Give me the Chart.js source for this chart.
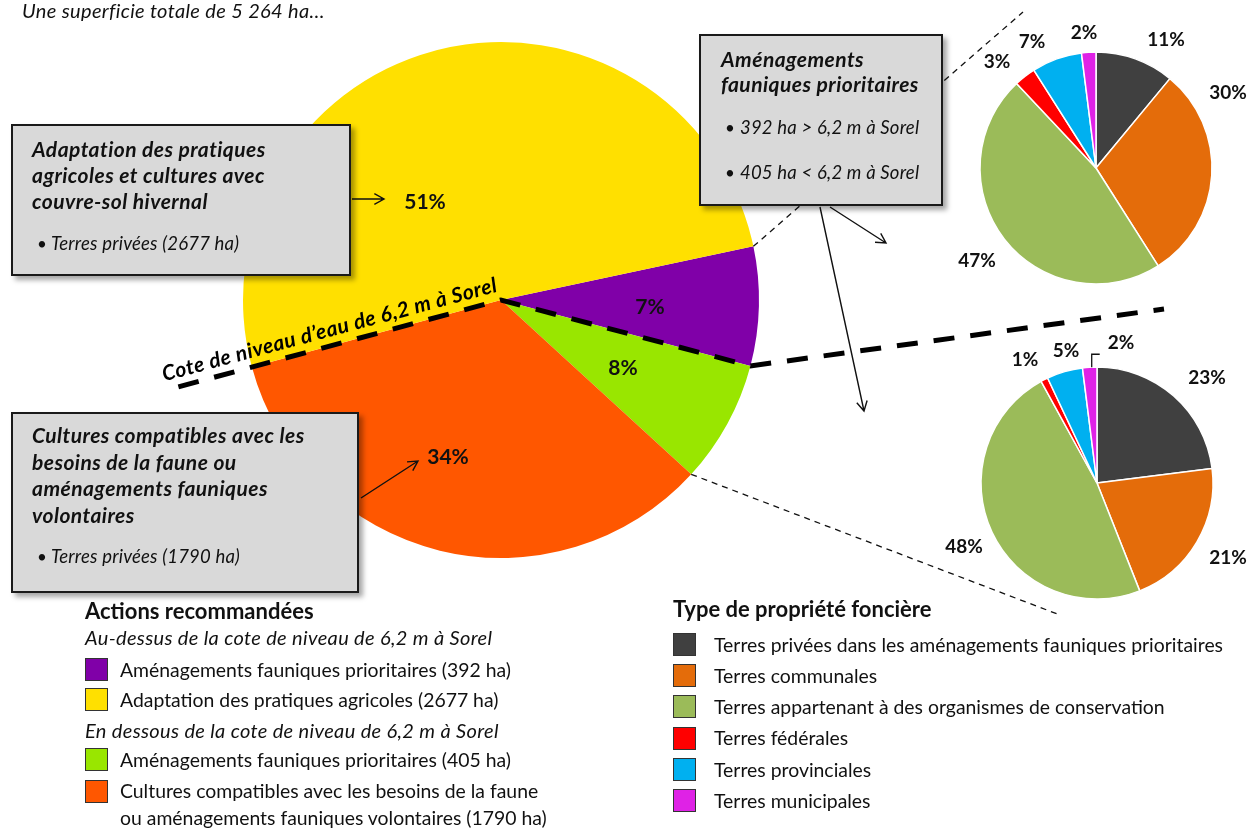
<!DOCTYPE html>
<html><head><meta charset="utf-8">
<script src="https://cdn.jsdelivr.net/npm/chart.js@4/dist/chart.umd.min.js"></script>
<style>
html,body{margin:0;padding:0;background:#fff;width:1249px;height:829px;overflow:hidden;font-family:Lato,'Open Sans',sans-serif;color:#111;}
canvas.layer{position:absolute;left:0;top:0;}
#cMain{z-index:1;} #cUp{z-index:3;} #cDown{z-index:3;}
.box{position:absolute;background:#d9d9d9;border:2px solid #1a1a1a;box-shadow:4px 4px 5px rgba(0,0,0,0.35);box-sizing:border-box;z-index:2;}
.t{position:absolute;white-space:nowrap;line-height:1;z-index:4;}
.sw{position:absolute;width:23px;height:23px;border:1px solid #333;box-sizing:border-box;z-index:4;}
</style></head>
<body>
<canvas id="cMain" class="layer" width="1249" height="829"></canvas>
<canvas id="cUp" class="layer" width="1249" height="829"></canvas>
<canvas id="cDown" class="layer" width="1249" height="829"></canvas>
<div id="ov"></div>
<script>
// ---------- DATA ----------
const mainCategories = [
  'Aménagements fauniques prioritaires (au-dessus de 6,2 m)',
  'Aménagements fauniques prioritaires (en dessous de 6,2 m)',
  'Cultures compatibles avec les besoins de la faune ou aménagements fauniques volontaires',
  'Adaptation des pratiques agricoles'
];
const mainHectares = [392, 405, 1790, 2677];
const ownershipTypes = [
  'Terres privées dans les aménagements fauniques prioritaires',
  'Terres communales',
  'Terres appartenant à des organismes de conservation',
  'Terres fédérales',
  'Terres provinciales',
  'Terres municipales'
];
const ownershipAbove = [11, 30, 47, 3, 7, 2];
const ownershipBelow = [23, 21, 48, 1, 5, 2];
const legendAboveLabels = ['Aménagements fauniques prioritaires (392 ha)', 'Adaptation des pratiques agricoles (2677 ha)'];
const legendBelowLabels = ['Aménagements fauniques prioritaires (405 ha)', 'Cultures compatibles avec les besoins de la faune\nou aménagements fauniques volontaires (1790 ha)'];

// ---------- STYLES ----------
const mainColors = ['#8000A8', '#99E600', '#FF5700', '#FFE000'];
const ownColors = ['#404040', '#E46C0A', '#9BBB59', '#FF0000', '#00B0F0', '#DF22E6'];
const FONT = 'Lato, "Open Sans", sans-serif';

const total = mainHectares.reduce((a,b)=>a+b,0);

// ---------- HTML helpers ----------
const ov = document.getElementById('ov');
const ST = {
  reg:   {fs:19.4, w:400, it:false, ls:0},
  ital:  {fs:20,   w:400, it:true,  ls:0.35},
  bul:   {fs:18.5, w:400, it:true,  ls:0.2},
  head:  {fs:21,   w:700, it:true,  ls:0.45},
  title: {fs:22,   w:700, it:false, ls:0},
  dot:   {fs:17,   w:400, it:false, ls:0}
};
function txt(text, x, base, st) {
  const d = document.createElement('div');
  d.className = 't';
  d.textContent = text;
  d.style.fontSize = st.fs + 'px';
  d.style.fontWeight = st.w;
  d.style.fontStyle = st.it ? 'italic' : 'normal';
  d.style.letterSpacing = st.ls + 'px';
  d.style.left = x + 'px';
  d.style.top = (base - 0.887 * st.fs) + 'px';
  ov.appendChild(d);
  return d;
}
function box(x, y, w, h) {
  const b = document.createElement('div');
  b.className = 'box';
  Object.assign(b.style, {left:x+'px', top:y+'px', width:w+'px', height:h+'px'});
  ov.appendChild(b);
}
function sw(x, y, c) {
  const s = document.createElement('div');
  s.className = 'sw';
  Object.assign(s.style, {left:x+'px', top:y+'px', background:c});
  ov.appendChild(s);
}

// title
txt('Une superficie totale de 5 264 ha…', 22, 18, ST.ital);

// box 1
box(11, 124, 340, 152);
['Adaptation des pratiques', 'agricoles et cultures avec', 'couvre-sol hivernal'].forEach((s,i)=>txt(s, 32, 157 + i*26, ST.head));
txt('•', 37, 250, ST.dot);
txt('Terres privées (2677 ha)', 51, 250, ST.bul);

// box 2
box(11, 412, 348, 181);
['Cultures compatibles avec les', 'besoins de la faune ou', 'aménagements fauniques', 'volontaires'].forEach((s,i)=>txt(s, 32, 443 + i*26.5, ST.head));
txt('•', 37, 563, ST.dot);
txt('Terres privées (1790 ha)', 51, 563, ST.bul);

// box 3
box(699, 34, 244, 172);
txt('Aménagements', 721, 67, ST.head);
txt('fauniques prioritaires', 721, 92, ST.head);
txt('•', 725, 134, ST.dot);
txt('392 ha > 6,2 m à Sorel', 740, 134, ST.bul);
txt('•', 725, 179, ST.dot);
txt('405 ha < 6,2 m à Sorel', 740, 179, ST.bul);

// legend left
txt('Actions recommandées', 85, 620, ST.title);
txt('Au-dessus de la cote de niveau de 6,2 m à Sorel', 85, 645, ST.ital);
const aboveIdx = [0, 3], belowIdx = [1, 2];
const aboveTops = [658, 688], belowTops = [748, 780];
aboveIdx.forEach((k,i)=>{ sw(85, aboveTops[i], mainColors[k]); txt(legendAboveLabels[i], 120, aboveTops[i] + 19, ST.reg); });
txt('En dessous de la cote de niveau de 6,2 m à Sorel', 85, 738, ST.ital);
belowIdx.forEach((k,i)=>{
  sw(85, belowTops[i], mainColors[k]);
  legendBelowLabels[i].split('\n').forEach((line, j)=> txt(line, 120, belowTops[i] + 19 + (i===1? -1:0) + j*27, ST.reg));
});

// legend right
txt('Type de propriété foncière', 673, 618, ST.title);
ownershipTypes.forEach((name, i)=>{
  const top = 633 + i*31.2;
  sw(673, top, ownColors[i]);
  txt(name, 714, top + 19, ST.reg);
});

// ---------- Chart plugins ----------
function arrow(ctx, x1, y1, x2, y2) {
  const a = Math.atan2(y2-y1, x2-x1), L = 11, w = 0.5;
  ctx.beginPath();
  ctx.moveTo(x1, y1); ctx.lineTo(x2, y2);
  ctx.moveTo(x2 - L*Math.cos(a - w), y2 - L*Math.sin(a - w));
  ctx.lineTo(x2, y2);
  ctx.lineTo(x2 - L*Math.cos(a + w), y2 - L*Math.sin(a + w));
  ctx.stroke();
}

const mainOverlay = {
  id: 'mainOverlay',
  afterDatasetsDraw(chart) {
    const ctx = chart.ctx;
    const arcs = chart.getDatasetMeta(0).data;
    const cx = arcs[0].x, cy = arcs[0].y, R = arcs[0].outerRadius;
    const pt = (a, r) => [cx + Math.cos(a)*r, cy + Math.sin(a)*r];
    const opts = chart.options.plugins.mainOverlay;

    // percent labels
    ctx.save();
    ctx.fillStyle = '#111';
    ctx.font = 'bold 21px ' + FONT;
    ctx.textAlign = 'center'; ctx.textBaseline = 'middle';
    chart.data.datasets[0].data.forEach((v, i) => {
      const o = opts.labelOffsets[i];
      ctx.fillText(Math.round(v / total * 100) + '%', cx + o[0], cy + o[1]);
    });
    ctx.restore();

    const aPurpleStart = arcs[0].startAngle;
    const aPurpleEnd = arcs[0].endAngle;
    const aGreenEnd = arcs[1].endAngle;
    const aOrangeEnd = arcs[2].endAngle;

    // thin dashed connectors
    ctx.save();
    ctx.strokeStyle = '#111'; ctx.lineWidth = 1.3; ctx.setLineDash([6, 5]);
    let p = pt(aPurpleStart, R);
    ctx.beginPath(); ctx.moveTo(p[0], p[1]); ctx.lineTo(opts.upperEnd[0], opts.upperEnd[1]); ctx.stroke();
    p = pt(aGreenEnd, R);
    ctx.beginPath(); ctx.moveTo(p[0], p[1]); ctx.lineTo(opts.lowerEnd[0], opts.lowerEnd[1]); ctx.stroke();
    ctx.restore();

    // thick dashed water-level line
    ctx.save();
    ctx.strokeStyle = '#000'; ctx.lineWidth = 5; ctx.setLineDash([21, 16]);
    const l1 = pt(aOrangeEnd, R * 1.295);
    const l3 = pt(aPurpleEnd, R);
    ctx.beginPath();
    ctx.moveTo(l1[0], l1[1]); ctx.lineTo(cx, cy); ctx.lineTo(l3[0], l3[1]); ctx.lineTo(opts.levelEnd[0], opts.levelEnd[1]);
    ctx.stroke();
    ctx.restore();

    // rotated label
    ctx.save();
    const s = pt(aOrangeEnd, R * 1.342);
    ctx.translate(s[0], s[1]);
    ctx.rotate(aOrangeEnd + Math.PI);
    ctx.font = 'italic bold 21px ' + FONT;
    try { ctx.letterSpacing = '0.5px'; } catch (e) {}
    ctx.fillStyle = '#000';
    ctx.textAlign = 'left'; ctx.textBaseline = 'alphabetic';
    ctx.fillText('Cote de niveau d’eau de 6,2 m à Sorel', 0, -9);
    ctx.restore();

    // arrows
    ctx.save();
    ctx.strokeStyle = '#111'; ctx.lineWidth = 1.4;
    opts.arrows.forEach(a => arrow(ctx, a[0], a[1], a[2], a[3]));
    ctx.restore();
  }
};

const pieLabels = {
  id: 'pieLabels',
  afterDatasetsDraw(chart) {
    const ctx = chart.ctx;
    const arcs = chart.getDatasetMeta(0).data;
    const cx = arcs[0].x, cy = arcs[0].y;
    const opts = chart.options.plugins.pieLabels;
    ctx.save();
    ctx.fillStyle = '#111';
    ctx.font = 'bold 19px ' + FONT;
    ctx.textAlign = 'center'; ctx.textBaseline = 'middle';
    chart.data.datasets[0].data.forEach((v, i) => {
      const o = opts.offsets[i];
      ctx.fillText(v + '%', cx + o[0], cy + o[1]);
    });
    if (opts.leader != null) {
      const a = arcs[opts.leader];
      const mid = (a.startAngle + a.endAngle) / 2;
      const x = cx + Math.cos(mid) * a.outerRadius, y = cy + Math.sin(mid) * a.outerRadius;
      ctx.strokeStyle = '#111'; ctx.lineWidth = 1.3;
      ctx.beginPath(); ctx.moveTo(x + 2, y); ctx.lineTo(x + 2, y - 13); ctx.lineTo(x + 10, y - 13); ctx.stroke();
    }
    ctx.restore();
  }
};

Chart.defaults.font.family = FONT;

new Chart(document.getElementById('cMain'), {
  type: 'pie',
  data: { labels: mainCategories, datasets: [{ data: mainHectares, backgroundColor: mainColors, borderWidth: 0, hoverOffset: 0, offset: 0 }] },
  options: {
    responsive: false, animation: false, events: [],
    rotation: 78, radius: 258,
    layout: { padding: { left: 241, right: 488, top: 40, bottom: 269 } },
    plugins: {
      legend: { display: false }, tooltip: { enabled: false },
      mainOverlay: {
        labelOffsets: [[149, 7], [122, 68], [-53, 157], [-76, -98]],
        upperEnd: [1023, 12], lowerEnd: [1060, 615], levelEnd: [1164, 309],
        arrows: [[352, 199, 384, 199], [361, 498, 418, 461], [830, 207, 886, 243], [820, 207, 864, 411]]
      }
    }
  },
  plugins: [mainOverlay]
});

function smallPie(id, values, center, offsets, leader) {
  const S = 120;
  new Chart(document.getElementById(id), {
    type: 'pie',
    data: { labels: ownershipTypes, datasets: [{ data: values, backgroundColor: ownColors, borderColor: '#fff', borderWidth: 1.5, hoverOffset: 0, offset: 0 }] },
    options: {
      responsive: false, animation: false, events: [],
      radius: 116,
      layout: { padding: { left: center[0] - S, right: 1249 - center[0] - S, top: center[1] - S, bottom: 829 - center[1] - S } },
      plugins: { legend: { display: false }, tooltip: { enabled: false }, pieLabels: { offsets, leader } }
    },
    plugins: [pieLabels]
  });
}
smallPie('cUp', ownershipAbove, [1096, 168], [[70,-128],[132,-75],[-119,93],[-99,-106],[-64,-126],[-12,-135]], null);
smallPie('cDown', ownershipBelow, [1097, 483], [[110,-105],[131,75],[-133,64],[-72,-123],[-31,-132],[24,-140]], 5);
</script>
</body></html>
